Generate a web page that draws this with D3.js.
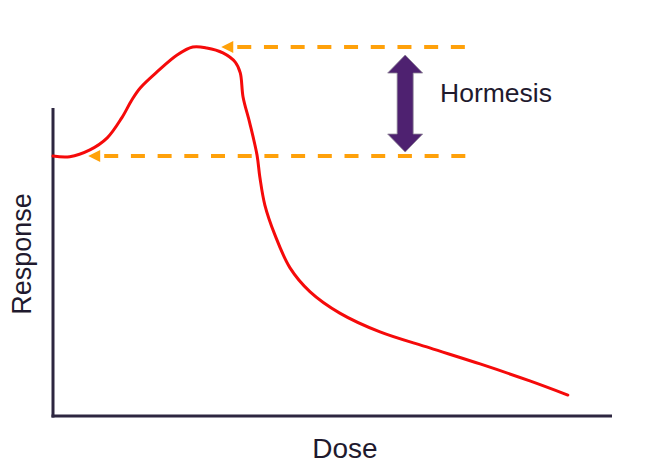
<!DOCTYPE html>
<html>
<head>
<meta charset="utf-8">
<script src="https://cdn.jsdelivr.net/npm/d3@7"></script>
<style>
  body { margin: 0; background: #fff; }
  text { font-family: "Liberation Sans", Arial, sans-serif; fill: #1f1a2e; }
</style>
</head>
<body>
<div id="chart"></div>
<script>
// dose-response curve (0..100 scale on both axes)
const dose = [0, 3, 6.6, 9.7, 12.3, 14.1, 15.6, 18.6, 22.2, 25, 27.5, 30.4, 32.6, 33.5, 34, 35.2, 36.5, 37, 37.9, 39.7, 42.4, 46, 51.3, 58.5, 67.4, 76.4, 85.3, 92.1]
const response = [84.4, 84.2, 86.4, 90.3, 96.8, 102.6, 106.5, 111.7, 117.2, 119.8, 119.5, 117.9, 114.9, 111.4, 103.6, 95.1, 84.7, 77.6, 68.5, 58.8, 48.1, 40.3, 33.4, 27.3, 22.1, 16.9, 11.4, 6.8]

// hormesis reference levels: [response, dose where arrow tip sits]
const peakLevel = 119.8
const baseLevel = 84.4
const peakTip = 30.1
const baseTip = 6.3
const lineEnd = 74.6
const hormesisDose = 63.0

const width = 648
const height = 468
const margin = { top: 108, right: 36, bottom: 52, left: 53 }

const svg = d3.select("#chart")
	.append("svg")
	.attr("width", width)
	.attr("height", height)

const x = d3.scaleLinear()
	.domain([0, 100])
	.range([margin.left, width - margin.right])

const y = d3.scaleLinear()
	.domain([0, 100])
	.range([height - margin.bottom, margin.top])

// ***** axes (plain lines, no ticks) *****
const axisColor = "#2d2640"
svg.append("line")
	.attr("x1", x(0)).attr("x2", x(0))
	.attr("y1", y(100)).attr("y2", y(0) + 1.5)
	.attr("stroke", axisColor)
	.attr("stroke-width", 3)

svg.append("line")
	.attr("x1", x(0) - 1.5).attr("x2", x(100))
	.attr("y1", y(0)).attr("y2", y(0))
	.attr("stroke", axisColor)
	.attr("stroke-width", 3)

svg.append("text")
	.attr("x", 345)
	.attr("y", 458)
	.attr("text-anchor", "middle")
	.style("font-size", "28px")
	.text("Dose")

svg.append("text")
	.attr("transform", "translate(31, 254) rotate(-90)")
	.attr("text-anchor", "middle")
	.style("font-size", "27px")
	.text("Response")

// ***** dashed reference arrows *****
const orange = "#ffa10a"
const levels = [[peakLevel, peakTip], [baseLevel, baseTip]]
levels.forEach(([lv, tip]) => {
	svg.append("line")
		.attr("x1", x(tip) + 12)
		.attr("x2", x(lineEnd))
		.attr("y1", y(lv)).attr("y2", y(lv))
		.attr("stroke", orange)
		.attr("stroke-width", 4)
		.attr("stroke-dasharray", "14 12.7")
		.attr("stroke-dashoffset", -4)
	svg.append("path")
		.attr("d", `M${x(tip)},${y(lv)} L${x(tip) + 12},${y(lv) - 6} L${x(tip) + 12},${y(lv) + 6} Z`)
		.attr("fill", orange)
})

// ***** hormesis double arrow *****
const hx = x(hormesisDose)
const arrowTop = y(peakLevel) + 8
const arrowBot = y(baseLevel) - 4
const hw = 17.5, sw = 8, hh = 18
svg.append("path")
	.attr("d", [
		`M${hx},${arrowTop}`,
		`L${hx + hw},${arrowTop + hh}`,
		`L${hx + sw},${arrowTop + hh}`,
		`L${hx + sw},${arrowBot - hh}`,
		`L${hx + hw},${arrowBot - hh}`,
		`L${hx},${arrowBot}`,
		`L${hx - hw},${arrowBot - hh}`,
		`L${hx - sw},${arrowBot - hh}`,
		`L${hx - sw},${arrowTop + hh}`,
		`L${hx - hw},${arrowTop + hh}`,
		"Z"
	].join(" "))
	.attr("fill", "#4e2170")
	.attr("stroke", "#8d8496")
	.attr("stroke-width", 0.8)

svg.append("text")
	.attr("x", 440)
	.attr("y", 102)
	.style("font-size", "26.5px")
	.text("Hormesis")

// ***** curve *****
const pts = dose.map((d, i) => [d, response[i]])
const line = d3.line()
	.x(d => x(d[0]))
	.y(d => y(d[1]))
	.curve(d3.curveCatmullRom.alpha(0.5))

svg.append("path")
	.datum(pts)
	.attr("d", line)
	.attr("fill", "none")
	.attr("stroke", "#f50a0a")
	.attr("stroke-width", 3)
	.attr("stroke-linecap", "round")
</script>
</body>
</html>
